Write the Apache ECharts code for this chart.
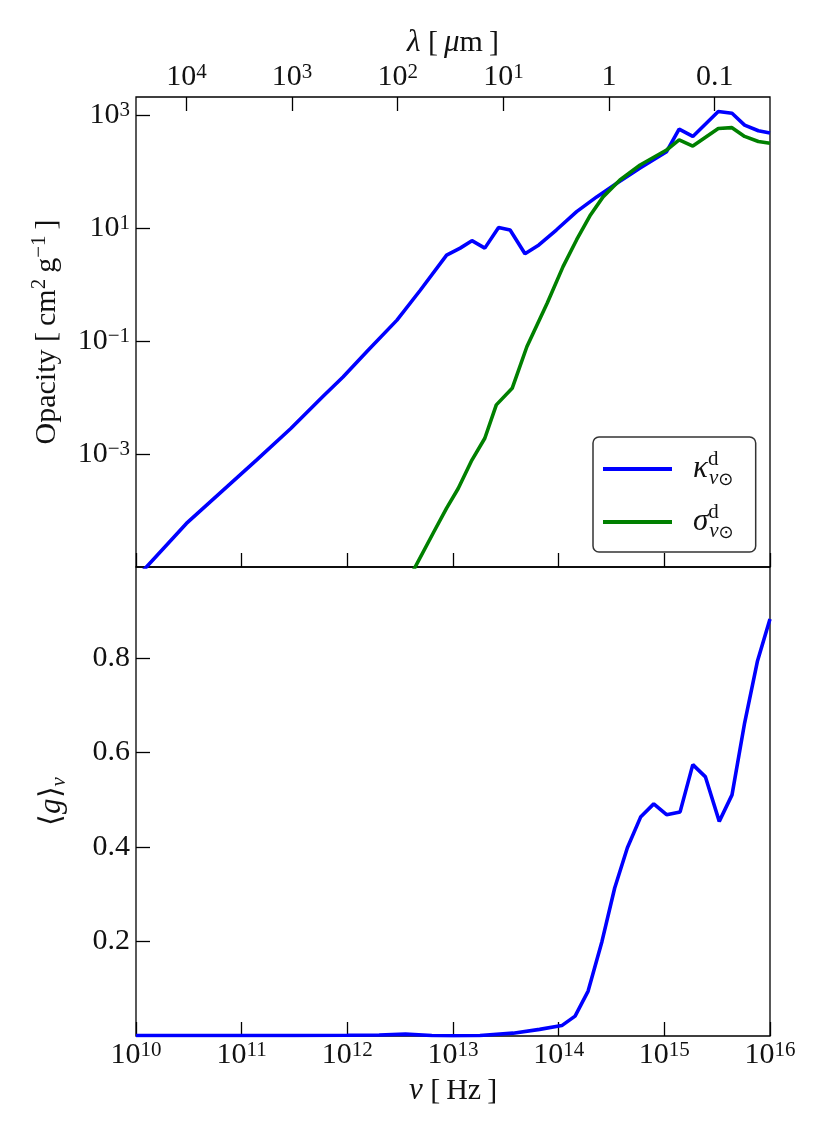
<!DOCTYPE html>
<html><head><meta charset="utf-8">
<script src="https://cdn.jsdelivr.net/npm/echarts@6/dist/echarts.min.js"></script>
<style>html,body{margin:0;padding:0;background:#fff}#c{width:830px;height:1142px}</style>
</head><body><div id="c"></div>
<script>
// ---- tick values ----
const nuTicks = [1e10, 1e11, 1e12, 1e13, 1e14, 1e15, 1e16];
const lambdaTicks = [1e4, 1e3, 1e2, 1e1, 1, 0.1];
const opacityTicks = [1e-3, 1e-1, 1e1, 1e3];
const gTicks = [0.2, 0.4, 0.6, 0.8];

// ---- absorption opacity kappa (cm^2/g) vs frequency (Hz) ----
const kappaNu  = [1.0e10, 3.0e10, 1.38e11, 2.9e11, 5.9e11, 9.1e11, 1.58e12, 2.95e12, 4.9e12, 8.7e12,
                  1.17e13, 1.51e13, 2.0e13, 2.7e13, 3.47e13, 4.8e13, 6.5e13, 9.5e13, 1.48e14, 2.29e14,
                  3.55e14, 5.9e14, 1.05e15, 1.38e15, 1.86e15, 3.24e15, 4.37e15, 5.75e15, 7.76e15, 1.0e16];
const kappaVal = [6.3e-6, 5.9e-5, 7.8e-4, 2.8e-3, 1.05e-2, 2.3e-2, 6.9e-2, 0.234, 0.79, 3.3,
                  4.4, 5.96, 4.4, 10.2, 9.2, 3.5, 5.0, 9.2, 19.5, 35.5,
                  61.7, 115, 224, 562, 417, 1148, 1072, 661, 525, 479];

// ---- scattering opacity sigma (cm^2/g) ----
const sigmaNu  = [3.98e12, 6.5e12, 8.7e12, 1.12e13, 1.51e13, 2.0e13, 2.57e13, 3.63e13, 5.0e13, 7.8e13,
                  1.1e14, 1.48e14, 2.0e14, 2.63e14, 3.8e14, 5.9e14, 1.05e15, 1.38e15, 1.86e15, 3.24e15,
                  4.37e15, 5.75e15, 7.76e15, 1.0e16];
const sigmaVal = [7.1e-6, 4.0e-5, 1.1e-4, 2.45e-4, 7.8e-4, 1.9e-3, 7.4e-3, 1.45e-2, 7.9e-2, 0.47,
                  2.07, 6.2, 17, 35.5, 70.8, 130, 240, 363, 282, 575,
                  596, 417, 339, 316];

// ---- asymmetry parameter <g> ----
const gNu  = [1e10, 3.16e10, 1e11, 3.16e11, 1e12, 2e12, 3.55e12, 6.3e12, 1e13, 1.8e13,
              3.7e13, 6.6e13, 1.07e14, 1.43e14, 1.9e14, 2.57e14, 3.39e14, 4.47e14, 5.96e14, 7.94e14,
              1.05e15, 1.41e15, 1.86e15, 2.45e15, 3.31e15, 4.37e15, 5.75e15, 7.59e15, 1e16];
const gVal = [0.001, 0.001, 0.001, 0.001, 0.0015, 0.002, 0.004, 0.001, 0.0005, 0.001,
              0.006, 0.014, 0.022, 0.042, 0.095, 0.20, 0.313, 0.398, 0.463, 0.491,
              0.468, 0.474, 0.574, 0.548, 0.454, 0.51, 0.662, 0.792, 0.882];

const C_MICRON = 2.998e14; // speed of light in micron/s
const FONT = 'Liberation Serif';
const TXT = '#111';

function zip(a, b) { return a.map((v, i) => [v, b[i]]); }
function expStr(e) { return e < 0 ? '\u2212' + (-e) : String(e); }
function pow10Label(v) {
  const e = Math.round(Math.log10(v));
  return '{b|10}{s|' + expStr(e) + '}';
}
const labelRich = {
  b: { fontFamily: FONT, fontSize: 30, lineHeight: 30, color: TXT },
  s: { fontFamily: FONT, fontSize: 21, lineHeight: 14, verticalAlign: 'top', color: TXT }
};
const nameRich = {
  i: { fontFamily: FONT, fontSize: 31, fontStyle: 'italic', color: TXT, lineHeight: 36 },
  s: { fontFamily: FONT, fontSize: 21, lineHeight: 16, verticalAlign: 'top', color: TXT },
  sub: { fontFamily: FONT, fontSize: 21, fontStyle: 'italic', lineHeight: 16, verticalAlign: 'bottom', color: TXT }
};
const nameStyle = { fontFamily: FONT, fontSize: 30, color: TXT, lineHeight: 36, rich: nameRich };
const tickStyle = { color: '#000', width: 1.3 };

const chart = echarts.init(document.getElementById('c'), null, { renderer: 'canvas' });
chart.setOption({
  animation: false,
  backgroundColor: '#fff',
  grid: [
    { left: 136, top: 97, width: 634, height: 470, show: true, borderColor: '#000', borderWidth: 1.3, backgroundColor: 'transparent' },
    { left: 136, top: 567, width: 634, height: 469, show: true, borderColor: '#000', borderWidth: 1.3, backgroundColor: 'transparent' }
  ],
  xAxis: [
    { gridIndex: 0, type: 'log', min: 1e10, max: 1e16, position: 'bottom',
      axisLine: { show: false }, splitLine: { show: false },
      axisTick: { inside: true, length: 14, lineStyle: tickStyle, customValues: nuTicks },
      axisLabel: { show: false } },
    { gridIndex: 0, type: 'log', min: C_MICRON / 1e16, max: C_MICRON / 1e10, inverse: true, position: 'top',
      axisLine: { show: false }, splitLine: { show: false },
      axisTick: { inside: true, length: 14, lineStyle: tickStyle, customValues: lambdaTicks },
      axisLabel: { customValues: lambdaTicks, margin: 5, rich: labelRich,
        formatter: function (v) {
          const e = Math.round(Math.log10(v));
          if (e === 0) return '{b|1}';
          if (e === -1) return '{b|0.1}';
          return pow10Label(v);
        } },
      name: '{i|λ} [\u2009{i|μ}m\u2009]', nameLocation: 'middle', nameGap: 35, nameTextStyle: nameStyle },
    { gridIndex: 1, type: 'log', min: 1e10, max: 1e16, position: 'bottom',
      axisLine: { show: false }, splitLine: { show: false },
      axisTick: { inside: true, length: 14, lineStyle: tickStyle, customValues: nuTicks },
      axisLabel: { customValues: nuTicks, margin: 4, rich: labelRich, formatter: pow10Label },
      name: '{i|ν} [\u2009Hz\u2009]', nameLocation: 'middle', nameGap: 37, nameTextStyle: nameStyle }
  ],
  yAxis: [
    { gridIndex: 0, type: 'log', min: 1e-5, max: 2080,
      axisLine: { show: false }, splitLine: { show: false },
      axisTick: { inside: true, length: 14, lineStyle: tickStyle, customValues: opacityTicks },
      axisLabel: { customValues: opacityTicks, margin: 6, rich: labelRich, formatter: pow10Label },
      name: 'Opacity [\u2009cm{s|2}\u2009g{s|\u22121}\u2009]', nameLocation: 'middle', nameGap: 71, nameRotate: 90,
      nameTextStyle: nameStyle },
    { gridIndex: 1, type: 'value', min: 0, max: 0.992,
      axisLine: { show: false }, splitLine: { show: false },
      axisTick: { inside: true, length: 14, lineStyle: tickStyle, customValues: gTicks },
      axisLabel: { customValues: gTicks, margin: 6, fontFamily: FONT, fontSize: 30, color: TXT,
        formatter: function (v) { return v.toFixed(1); } },
      name: '\u27e8{i|g}\u27e9{sub|ν}', nameLocation: 'middle', nameGap: 66, nameRotate: 90,
      nameTextStyle: nameStyle }
  ],
  legend: {
    data: ['kappa', 'sigma'],
    orient: 'vertical', left: 593, top: 437,
    padding: [12, 22, 10, 10], itemGap: 13, itemWidth: 69, itemHeight: 4, icon: 'rect',
    backgroundColor: '#fff', borderColor: '#333', borderWidth: 1.5, borderRadius: 6,
    formatter: function (name) {
      const sym = name === 'kappa' ? 'κ' : 'σ';
      return '{sp|}{k|' + sym + '}{sup|d}{sub|ν}{subo|\u2299}';
    },
    textStyle: {
      color: TXT, fontFamily: FONT,
      rich: {
        sp: { width: 16 },
        k: { fontFamily: FONT, fontSize: 31, fontStyle: 'italic', lineHeight: 40, color: TXT },
        sup: { fontFamily: FONT, fontSize: 21, lineHeight: 14, verticalAlign: 'top', width: 1, color: TXT },
        sub: { fontFamily: FONT, fontSize: 21, fontStyle: 'italic', lineHeight: 30, verticalAlign: 'bottom', color: TXT },
        subo: { fontFamily: 'DejaVu Sans', fontSize: 18, lineHeight: 30, verticalAlign: 'bottom', color: TXT }
      }
    }
  },
  series: [
    { name: 'kappa', type: 'line', xAxisIndex: 0, yAxisIndex: 0, data: zip(kappaNu, kappaVal),
      symbol: 'none', clip: true, z: 2, lineStyle: { color: '#0000ff', width: 3.6 }, itemStyle: { color: '#0000ff' } },
    { name: 'sigma', type: 'line', xAxisIndex: 0, yAxisIndex: 0, data: zip(sigmaNu, sigmaVal),
      symbol: 'none', clip: true, z: 3, lineStyle: { color: '#008000', width: 3.6 }, itemStyle: { color: '#008000' } },
    { name: 'g', type: 'line', xAxisIndex: 2, yAxisIndex: 1, data: zip(gNu, gVal),
      symbol: 'none', clip: true, z: 2, lineStyle: { color: '#0000ff', width: 3.6 }, itemStyle: { color: '#0000ff' } }
  ]
});
</script></body></html>
